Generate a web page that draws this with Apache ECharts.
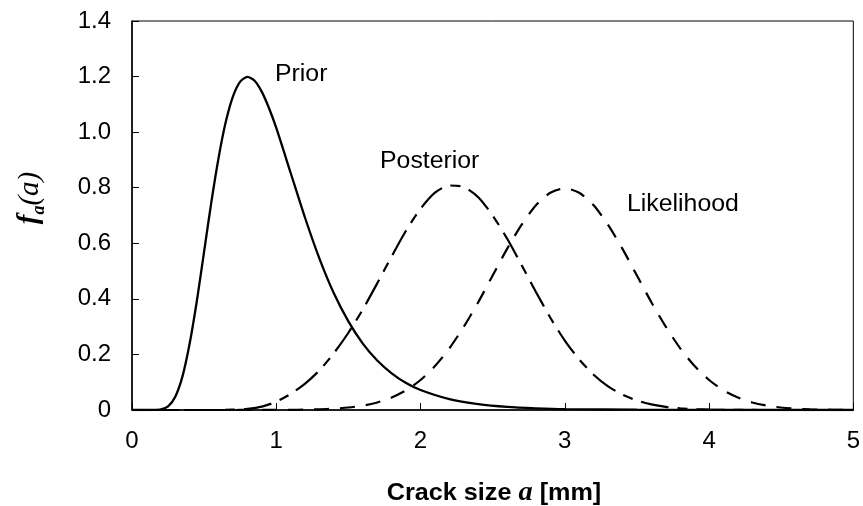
<!DOCTYPE html>
<html>
<head>
<meta charset="utf-8">
<script src="https://cdn.jsdelivr.net/npm/echarts@6/dist/echarts.min.js"></script>
<style>
  html, body { margin: 0; padding: 0; background: #fff; }
  #chart { width: 863px; height: 506px; }
</style>
</head>
<body>
<div id="chart"></div>
<script>
// values
const priorA = [0, 0.1, 0.15, 0.2, 0.25, 0.3, 0.35, 0.4, 0.45, 0.5, 0.55, 0.6, 0.65, 0.7, 0.75, 0.8, 0.85, 0.9, 0.95, 1.0,
  1.1, 1.2, 1.3, 1.4, 1.5, 1.6, 1.7, 1.8, 1.9, 2.0, 2.2, 2.4, 2.6, 2.8, 3.0, 3.5, 4.0, 4.5, 5.0];
const priorF = [0, 0, 0.0001, 0.002, 0.013, 0.048, 0.121, 0.24, 0.394, 0.571, 0.748, 0.907, 1.037, 1.129, 1.182, 1.199, 1.185, 1.145, 1.086, 1.015,
  0.853, 0.691, 0.544, 0.419, 0.319, 0.239, 0.178, 0.132, 0.097, 0.072, 0.039, 0.021, 0.011, 0.006, 0.003, 0.001, 0.0002, 0, 0];

const likeA = [0, 0.5, 1.0, 1.1, 1.2, 1.3, 1.4, 1.5, 1.6, 1.7, 1.8, 1.9, 2.0, 2.1, 2.2, 2.3, 2.4, 2.5, 2.6, 2.7, 2.8, 2.9, 3.0,
  3.1, 3.2, 3.3, 3.4, 3.5, 3.6, 3.7, 3.8, 3.9, 4.0, 4.1, 4.2, 4.3, 4.4, 4.5, 4.6, 4.7, 4.8, 4.9, 5.0];
const likeF = [0, 0, 0.0003, 0.0006, 0.0012, 0.0025, 0.0048, 0.0089, 0.0158, 0.0271, 0.0448, 0.0709, 0.108, 0.158, 0.222, 0.300, 0.388, 0.484, 0.580, 0.666, 0.737, 0.782, 0.798,
  0.782, 0.737, 0.666, 0.580, 0.484, 0.388, 0.300, 0.222, 0.158, 0.108, 0.0709, 0.0448, 0.0271, 0.0158, 0.0089, 0.0048, 0.0025, 0.0012, 0.0006, 0.0003];

const postA = [0, 0.5, 0.6, 0.7, 0.8, 0.9, 1.0, 1.1, 1.2, 1.3, 1.4, 1.5, 1.6, 1.7, 1.8, 1.9, 2.0, 2.1, 2.2, 2.3, 2.4, 2.5, 2.6,
  2.7, 2.8, 2.9, 3.0, 3.1, 3.2, 3.3, 3.4, 3.5, 3.6, 3.7, 3.8, 3.9, 4.0, 4.2, 4.5, 5.0];
const postF = [0, 0, 0, 0.001, 0.004, 0.012, 0.03, 0.058, 0.095, 0.143, 0.205, 0.278, 0.362, 0.456, 0.553, 0.646, 0.724, 0.782, 0.808, 0.803, 0.766, 0.70, 0.617,
  0.522, 0.425, 0.332, 0.25, 0.182, 0.127, 0.085, 0.055, 0.034, 0.02, 0.011, 0.006, 0.003, 0.0015, 0.0003, 0, 0];

const xTicks = { min: 0, max: 5, step: 1 };
const yTicks = { min: 0, max: 1.4, step: 0.2 };

const pairs = (xs, ys) => xs.map((x, i) => [x, ys[i]]);
const font = "'Liberation Sans', Arial, sans-serif";
const serif = "'Liberation Serif', 'Times New Roman', serif";

const chart = echarts.init(document.getElementById("chart"));

const lineBase = {
  type: "line",
  showSymbol: false,
  smooth: 0.25,
  silent: true
};

const option = {
  animation: false,
  backgroundColor: "#fff",
  grid: {
    left: 132,
    right: 6,
    top: 21,
    bottom: 96,
    show: true,
    borderColor: "#000",
    borderWidth: 1
  },
  xAxis: {
    type: "value",
    min: xTicks.min,
    max: xTicks.max,
    interval: xTicks.step,
    splitLine: { show: false },
    axisLine: { lineStyle: { color: "#000", width: 1.5 } },
    axisTick: { inside: true, length: 7, lineStyle: { color: "#000" } },
    axisLabel: { color: "#000", fontFamily: font, fontSize: 24, margin: 19 }
  },
  yAxis: {
    type: "value",
    min: yTicks.min,
    max: yTicks.max,
    interval: yTicks.step,
    splitLine: { show: false },
    axisLine: { show: true, lineStyle: { color: "#000", width: 1.5 } },
    axisTick: { show: true, inside: true, length: 7, lineStyle: { color: "#000" } },
    axisLabel: {
      color: "#000",
      fontFamily: font,
      fontSize: 24,
      margin: 21,
      formatter: v => (v === 0 ? "0" : v.toFixed(1))
    }
  },
  series: [
    Object.assign({}, lineBase, {
      name: "Prior",
      data: pairs(priorA, priorF),
      lineStyle: { color: "#000", width: 2.3, type: "solid" }
    }),
    Object.assign({}, lineBase, {
      name: "Likelihood",
      data: pairs(likeA, likeF),
      lineStyle: { color: "#000", width: 2.2, type: [15, 11] }
    }),
    Object.assign({}, lineBase, {
      name: "Posterior",
      data: pairs(postA, postF),
      lineStyle: { color: "#000", width: 2.2, type: [28, 9, 10, 9] }
    })
  ],
  graphic: [
    // curve names
    { type: "text", x: 275, y: 75, scaleX: 1.08, silent: true,
      style: { text: "Prior", font: "23px " + font, fill: "#000", textVerticalAlign: "middle" } },
    { type: "text", x: 380, y: 162, scaleX: 1.08, silent: true,
      style: { text: "Posterior", font: "23px " + font, fill: "#000", textVerticalAlign: "middle" } },
    { type: "text", x: 627, y: 205, scaleX: 1.08, silent: true,
      style: { text: "Likelihood", font: "23px " + font, fill: "#000", textVerticalAlign: "middle" } },
    // x axis title
    { type: "text", x: 494, y: 493, scaleX: 1.05, silent: true,
      style: {
        text: "{b|Crack size }{i|a}{b| [mm]}",
        textAlign: "center",
        textVerticalAlign: "middle",
        rich: {
          b: { fontFamily: font, fontWeight: "bold", fontSize: 24, color: "#000" },
          i: { fontFamily: serif, fontWeight: "bold", fontStyle: "italic", fontSize: 27, color: "#000" }
        }
      } },
    // y axis title
    { type: "text", x: 30, y: 198, rotation: Math.PI / 2, silent: true,
      style: {
        text: "{f|f}{s|a}{p|(a)}",
        textAlign: "center",
        textVerticalAlign: "middle",
        rich: {
          f: { fontFamily: serif, fontWeight: "bold", fontStyle: "italic", fontSize: 29, lineHeight: 36, color: "#000" },
          s: { fontFamily: serif, fontWeight: "bold", fontStyle: "italic", fontSize: 18, lineHeight: 36, verticalAlign: "bottom", color: "#000" },
          p: { fontFamily: serif, fontStyle: "italic", fontSize: 29, lineHeight: 36, color: "#000" }
        }
      } }
  ]
};

chart.setOption(option);
</script>
</body>
</html>
